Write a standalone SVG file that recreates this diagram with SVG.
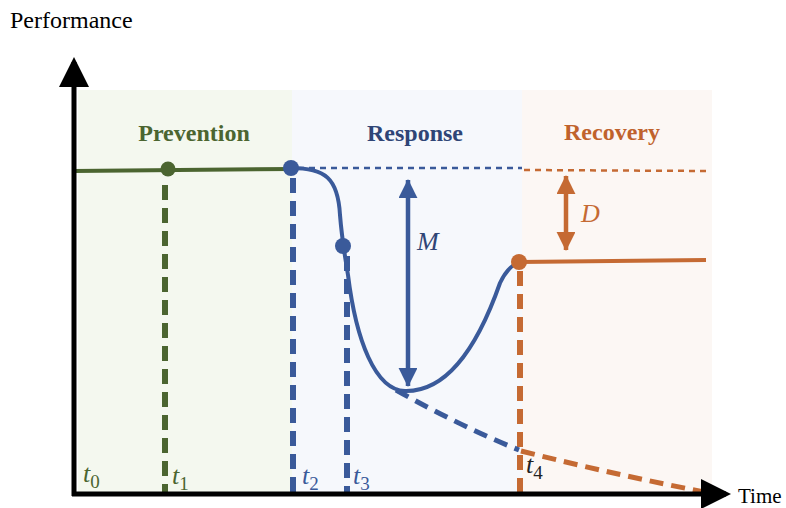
<svg xmlns="http://www.w3.org/2000/svg" width="786" height="508" viewBox="0 0 786 508">
<defs>
<style>
.txt{font-family:"Liberation Serif","Times New Roman",serif;}
.phase{font-family:"Liberation Serif","Times New Roman",serif;font-weight:bold;font-size:24px;text-anchor:middle;}
.tl{font-family:"Liberation Serif","Times New Roman",serif;font-style:italic;font-size:26px;}
.sub{font-size:19px;font-style:normal;}
.vd{fill:none;stroke-width:6;stroke-dasharray:15 8;}
.dot{fill:none;stroke-width:2.5;stroke-dasharray:6 5;}
.g{stroke:#4b6530;}
.b{stroke:#3a5a9a;}
.o{stroke:#c56a33;}
</style>
<marker id="ab" markerWidth="6" markerHeight="6" refX="5" refY="3" orient="auto-start-reverse" markerUnits="strokeWidth"><path d="M0,0 L6,3 L0,6 Z" fill="#000"/></marker>
<marker id="mb" markerWidth="5" markerHeight="5" refX="4" refY="2.1" orient="auto-start-reverse" markerUnits="strokeWidth"><path d="M0,0 L4.2,2.1 L0,4.2 Z" fill="#3a5a9a"/></marker>
<marker id="mo" markerWidth="5" markerHeight="5" refX="4" refY="2.1" orient="auto-start-reverse" markerUnits="strokeWidth"><path d="M0,0 L4.2,2.1 L0,4.2 Z" fill="#c56a33"/></marker>
</defs>
<g id="backgrounds">
<rect x="78" y="90" width="214" height="404" fill="#f4f8ef"/>
<rect x="292" y="90" width="230" height="404" fill="#f6f8fc"/>
<rect x="522" y="90" width="190" height="404" fill="#fcf7f4"/>
</g>
<g id="labels">
<text class="txt" x="10" y="28" font-size="24" fill="#000">Performance</text>
<text class="txt" x="738" y="503" font-size="21" fill="#000">Time</text>
<text class="phase" x="194" y="141" fill="#4b6530">Prevention</text>
<text class="phase" x="415" y="141" fill="#2f4576">Response</text>
<text class="phase" x="612" y="140" fill="#c0622c">Recovery</text>
<text class="tl" x="83" y="482" fill="#4b6530">t<tspan class="sub" dy="6">0</tspan></text>
<text class="tl" x="172" y="484" fill="#4b6530">t<tspan class="sub" dy="6">1</tspan></text>
<text class="tl" x="302" y="484" fill="#3a5a9a">t<tspan class="sub" dy="6">2</tspan></text>
<text class="tl" x="353" y="484" fill="#3a5a9a">t<tspan class="sub" dy="6">3</tspan></text>
<text class="tl" x="526" y="473" fill="#222">t<tspan class="sub" dy="6">4</tspan></text>
<text class="tl" x="417" y="250" font-size="22" fill="#2f4576">M</text>
<text class="tl" x="581" y="222" font-size="22" fill="#c56a33">D</text>
</g>
<g id="connectors">
<line class="vd g" x1="165" y1="185" x2="165" y2="494"/>
<line class="vd b" x1="293" y1="178" x2="293" y2="494"/>
<line class="vd b" x1="347" y1="256" x2="347" y2="494"/>
<line class="vd o" x1="520" y1="271" x2="520" y2="494"/>
<line class="dot b" x1="298" y1="168" x2="522" y2="168"/>
<line class="dot o" x1="524" y1="170" x2="708" y2="171"/>
<path d="M396,390 Q460,426 519,450" fill="none" stroke="#3a5a9a" stroke-width="5" stroke-dasharray="14 8"/>
<path d="M521,451 Q620,476 710,493" fill="none" stroke="#c56a33" stroke-width="5" stroke-dasharray="14 8"/>
<line x1="74" y1="171" x2="291" y2="169" stroke="#4b6530" stroke-width="4"/>
<path d="M291,168 C325,168 338,178 340,215 C342,240 344,250 348,275 C356,340 375,390 405,391 C450,392 480,340 500,283 C506,270 512,265 519,262" fill="none" stroke="#3a5a9a" stroke-width="4"/>
<line x1="519" y1="262" x2="706" y2="260" stroke="#c56a33" stroke-width="4"/>
<line x1="408" y1="180" x2="408" y2="386" stroke="#3a5a9a" stroke-width="4.5" marker-start="url(#mb)" marker-end="url(#mb)"/>
<line x1="566" y1="176" x2="566" y2="250" stroke="#c56a33" stroke-width="4.5" marker-start="url(#mo)" marker-end="url(#mo)"/>
<line x1="74" y1="496" x2="74" y2="62" stroke="#000" stroke-width="5" marker-end="url(#ab)"/>
<line x1="72" y1="494" x2="726" y2="494" stroke="#000" stroke-width="5" marker-end="url(#ab)"/>
</g>
<g id="points">
<circle cx="168" cy="169" r="7.5" fill="#4b6530"/>
<circle cx="291" cy="168" r="8" fill="#3a5a9a"/>
<circle cx="343" cy="246" r="8" fill="#3a5a9a"/>
<circle cx="519" cy="262" r="8" fill="#c56a33"/>
</g>
</svg>
